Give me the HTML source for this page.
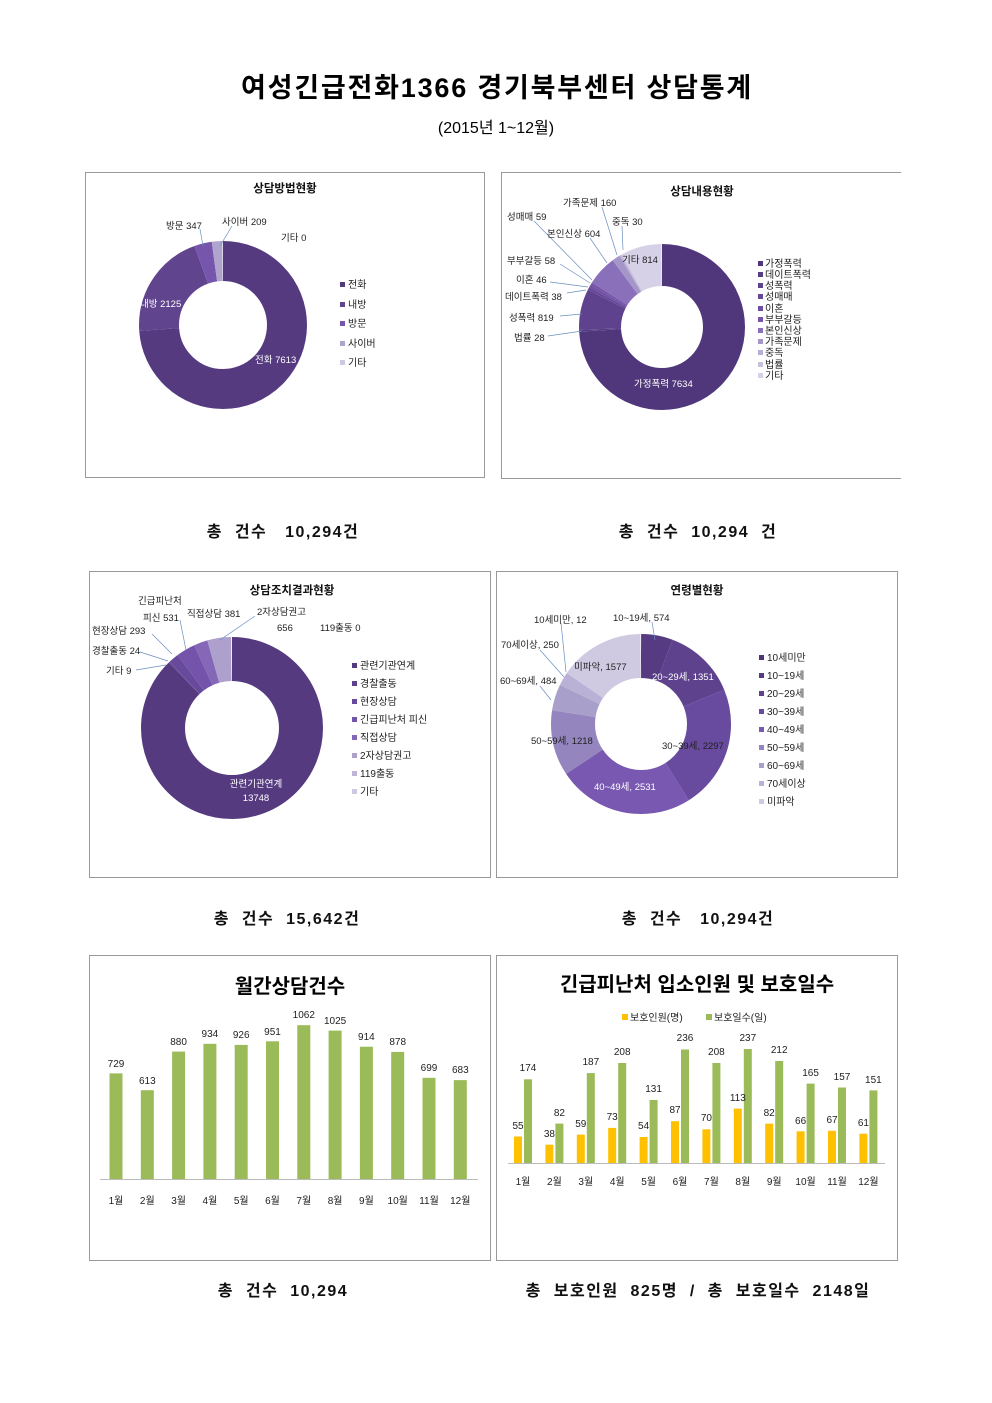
<!DOCTYPE html>
<html><head><meta charset="utf-8"><style>
body{margin:0;background:#fff}
svg{display:block;font-family:"Liberation Sans","Noto Sans CJK KR",sans-serif}
.l{font-size:9.5px;fill:#222}
.w{font-size:9.5px;fill:#fff}
.lg{font-size:10px;fill:#222}
.t{font-size:11.5px;font-weight:bold;fill:#111}
.cap{font-size:16px;font-weight:bold;fill:#111;letter-spacing:1.5px}
.n{font-size:10px;fill:#222;text-anchor:middle}
.m{font-size:10px;fill:#222;text-anchor:middle}
</style></head><body>
<svg width="992" height="1403" viewBox="0 0 992 1403">
<text x="497" y="97" text-anchor="middle" style="font-size:27px;font-weight:bold;letter-spacing:1.8px">여성긴급전화1366 경기북부센터 상담통계</text>
<text x="496" y="133" text-anchor="middle" style="font-size:16px">(2015년 1~12월)</text>

<!-- boxes -->
<g fill="none" stroke="#999" stroke-width="1">
<rect x="85.5" y="172.5" width="399" height="305"/>
<path d="M901 172.5H501.5V478.5H901"/>
<rect x="89.5" y="571.5" width="401" height="306"/>
<rect x="496.5" y="571.5" width="401" height="306"/>
<rect x="89.5" y="955.5" width="401" height="305"/>
<rect x="496.5" y="955.5" width="401" height="305"/>
</g>

<!-- Chart 1 -->
<text class="t" x="285" y="192" text-anchor="middle">상담방법현황</text>
<g fill="none" stroke-width="40" transform="rotate(-90 223 325)">
<circle cx="223" cy="325" r="64" pathLength="100" stroke="#553a80" stroke-dasharray="73.96 100"/>
<circle cx="223" cy="325" r="64" pathLength="100" stroke="#60448e" stroke-dasharray="20.64 100" stroke-dashoffset="-73.96"/>
<circle cx="223" cy="325" r="64" pathLength="100" stroke="#7656ac" stroke-dasharray="3.37 100" stroke-dashoffset="-94.6"/>
<circle cx="223" cy="325" r="64" pathLength="100" stroke="#b0a4cf" stroke-dasharray="2.03 100" stroke-dashoffset="-97.97"/>
</g>
<g stroke="#6a8fbf" stroke-width="0.7"><line x1="200" y1="229" x2="203" y2="246"/><line x1="232" y1="226" x2="220" y2="246"/></g>
<text class="l" x="166" y="229">방문 347</text>
<text class="l" x="222" y="225">사이버 209</text>
<text class="l" x="281" y="241">기타 0</text>
<text class="w" x="140" y="307">내방 2125</text>
<text class="w" x="255" y="363">전화 7613</text>
<g class="lg">
<rect x="340" y="282" width="5" height="5" fill="#553a80"/><text x="348" y="288">전화</text>
<rect x="340" y="302" width="5" height="5" fill="#60448e"/><text x="348" y="308">내방</text>
<rect x="340" y="321" width="5" height="5" fill="#7656ac"/><text x="348" y="327">방문</text>
<rect x="340" y="341" width="5" height="5" fill="#b0a4cf"/><text x="348" y="347">사이버</text>
<rect x="340" y="360" width="5" height="5" fill="#cfc8e2"/><text x="348" y="366">기타</text>
</g>

<!-- Chart 2 -->
<text class="t" x="702" y="195" text-anchor="middle">상담내용현황</text>
<g fill="none" stroke-width="42" transform="rotate(-90 662 327)">
<circle cx="662" cy="327" r="62" pathLength="100" stroke="#50367a" stroke-dasharray="74.19 100"/>
<circle cx="662" cy="327" r="62" pathLength="100" stroke="#573c84" stroke-dasharray="0.37 100" stroke-dashoffset="-74.19"/>
<circle cx="662" cy="327" r="62" pathLength="100" stroke="#5e428e" stroke-dasharray="7.96 100" stroke-dashoffset="-74.56"/>
<circle cx="662" cy="327" r="62" pathLength="100" stroke="#664898" stroke-dasharray="0.57 100" stroke-dashoffset="-82.52"/>
<circle cx="662" cy="327" r="62" pathLength="100" stroke="#6d4ea2" stroke-dasharray="0.45 100" stroke-dashoffset="-83.09"/>
<circle cx="662" cy="327" r="62" pathLength="100" stroke="#7554aa" stroke-dasharray="0.56 100" stroke-dashoffset="-83.54"/>
<circle cx="662" cy="327" r="62" pathLength="100" stroke="#8a6fba" stroke-dasharray="5.87 100" stroke-dashoffset="-84.1"/>
<circle cx="662" cy="327" r="62" pathLength="100" stroke="#a496c8" stroke-dasharray="1.55 100" stroke-dashoffset="-89.97"/>
<circle cx="662" cy="327" r="62" pathLength="100" stroke="#b8aed5" stroke-dasharray="0.29 100" stroke-dashoffset="-91.52"/>
<circle cx="662" cy="327" r="62" pathLength="100" stroke="#c8c1de" stroke-dasharray="0.27 100" stroke-dashoffset="-91.81"/>
<circle cx="662" cy="327" r="62" pathLength="100" stroke="#d6d1e6" stroke-dasharray="7.92 100" stroke-dashoffset="-92.08"/>
</g>
<g stroke="#6a8fbf" stroke-width="0.7">
<line x1="602" y1="207" x2="617" y2="255"/><line x1="534" y1="221" x2="592" y2="280"/><line x1="622" y1="226" x2="623" y2="250"/>
<line x1="590" y1="238" x2="607" y2="263"/><line x1="560" y1="264" x2="590" y2="283"/><line x1="550" y1="282" x2="588" y2="287"/>
<line x1="567" y1="293" x2="586" y2="290"/><line x1="560" y1="316" x2="582" y2="314"/><line x1="548" y1="336" x2="582" y2="331"/>
</g>
<text class="l" x="563" y="206">가족문제 160</text>
<text class="l" x="507" y="220">성매매 59</text>
<text class="l" x="612" y="225">중독 30</text>
<text class="l" x="547" y="237">본인신상 604</text>
<text class="l" x="507" y="264">부부갈등 58</text>
<text class="l" x="622" y="263">기타 814</text>
<text class="l" x="516" y="283">이혼 46</text>
<text class="l" x="505" y="300">데이트폭력 38</text>
<text class="l" x="509" y="321">성폭력 819</text>
<text class="l" x="514" y="341">법률 28</text>
<text class="w" x="634" y="387">가정폭력 7634</text>
<g class="lg">
<rect x="758" y="261" width="5" height="5" fill="#50367a"/><text x="765" y="267">가정폭력</text>
<rect x="758" y="272" width="5" height="5" fill="#573c84"/><text x="765" y="278">데이트폭력</text>
<rect x="758" y="283" width="5" height="5" fill="#5e428e"/><text x="765" y="289">성폭력</text>
<rect x="758" y="294" width="5" height="5" fill="#664898"/><text x="765" y="300">성매매</text>
<rect x="758" y="306" width="5" height="5" fill="#6d4ea2"/><text x="765" y="312">이혼</text>
<rect x="758" y="317" width="5" height="5" fill="#7554aa"/><text x="765" y="323">부부갈등</text>
<rect x="758" y="328" width="5" height="5" fill="#8a6fba"/><text x="765" y="334">본인신상</text>
<rect x="758" y="339" width="5" height="5" fill="#a496c8"/><text x="765" y="345">가족문제</text>
<rect x="758" y="350" width="5" height="5" fill="#b8aed5"/><text x="765" y="356">중독</text>
<rect x="758" y="362" width="5" height="5" fill="#c8c1de"/><text x="765" y="368">법률</text>
<rect x="758" y="373" width="5" height="5" fill="#d6d1e6"/><text x="765" y="379">기타</text>
</g>

<text class="cap" x="283" y="537" text-anchor="middle" xml:space="preserve">총  건수   10,294건</text>
<text class="cap" x="698" y="537" text-anchor="middle" xml:space="preserve">총  건수  10,294  건</text>

<!-- Chart 3 -->
<text class="t" x="292" y="594" text-anchor="middle">상담조치결과현황</text>
<g fill="none" stroke-width="44" transform="rotate(-90 232 728)">
<circle cx="232" cy="728" r="69" pathLength="100" stroke="#553a80" stroke-dasharray="87.89 100"/>
<circle cx="232" cy="728" r="69" pathLength="100" stroke="#5e428e" stroke-dasharray="0.15 100" stroke-dashoffset="-87.89"/>
<circle cx="232" cy="728" r="69" pathLength="100" stroke="#684a9c" stroke-dasharray="1.87 100" stroke-dashoffset="-88.04"/>
<circle cx="232" cy="728" r="69" pathLength="100" stroke="#7454aa" stroke-dasharray="3.39 100" stroke-dashoffset="-89.91"/>
<circle cx="232" cy="728" r="69" pathLength="100" stroke="#8467b6" stroke-dasharray="2.44 100" stroke-dashoffset="-93.3"/>
<circle cx="232" cy="728" r="69" pathLength="100" stroke="#ada0cd" stroke-dasharray="4.19 100" stroke-dashoffset="-95.74"/>
<circle cx="232" cy="728" r="69" pathLength="100" stroke="#cfc8e2" stroke-dasharray="0.07 100" stroke-dashoffset="-99.93"/>
</g>
<g stroke="#6a8fbf" stroke-width="0.7">
<line x1="255" y1="616" x2="220" y2="640"/><line x1="180" y1="620" x2="186" y2="650"/><line x1="152" y1="634" x2="172" y2="654"/>
<line x1="140" y1="652" x2="168" y2="661"/><line x1="136" y1="670" x2="166" y2="665"/>
</g>
<text class="l" x="138" y="604">긴급피난처</text>
<text class="l" x="187" y="617">직접상담 381</text>
<text class="l" x="257" y="615">2자상담권고</text>
<text class="l" x="143" y="621">피신 531</text>
<text class="l" x="277" y="631">656</text>
<text class="l" x="320" y="631">119출동 0</text>
<text class="l" x="92" y="634">현장상담 293</text>
<text class="l" x="92" y="654">경찰출동 24</text>
<text class="l" x="106" y="674">기타 9</text>
<text class="w" x="256" y="787" text-anchor="middle">관련기관연계</text>
<text class="w" x="256" y="801" text-anchor="middle">13748</text>
<g class="lg">
<rect x="352" y="663" width="5" height="5" fill="#553a80"/><text x="360" y="669">관련기관연계</text>
<rect x="352" y="681" width="5" height="5" fill="#5e428e"/><text x="360" y="687">경찰출동</text>
<rect x="352" y="699" width="5" height="5" fill="#684a9c"/><text x="360" y="705">현장상담</text>
<rect x="352" y="717" width="5" height="5" fill="#7454aa"/><text x="360" y="723">긴급피난처 피신</text>
<rect x="352" y="735" width="5" height="5" fill="#8467b6"/><text x="360" y="741">직접상담</text>
<rect x="352" y="753" width="5" height="5" fill="#ada0cd"/><text x="360" y="759">2자상담권고</text>
<rect x="352" y="771" width="5" height="5" fill="#bdb4d8"/><text x="360" y="777">119출동</text>
<rect x="352" y="789" width="5" height="5" fill="#cfc8e2"/><text x="360" y="795">기타</text>
</g>

<!-- Chart 4 -->
<text class="t" x="697" y="594" text-anchor="middle">연령별현황</text>
<g fill="none" stroke-width="44" transform="rotate(-90 641 724)">
<circle cx="641" cy="724" r="68" pathLength="100" stroke="#4f3578" stroke-dasharray="0.12 100"/>
<circle cx="641" cy="724" r="68" pathLength="100" stroke="#563b82" stroke-dasharray="5.58 100" stroke-dashoffset="-0.12"/>
<circle cx="641" cy="724" r="68" pathLength="100" stroke="#5e428e" stroke-dasharray="13.12 100" stroke-dashoffset="-5.7"/>
<circle cx="641" cy="724" r="68" pathLength="100" stroke="#684a9e" stroke-dasharray="22.31 100" stroke-dashoffset="-18.82"/>
<circle cx="641" cy="724" r="68" pathLength="100" stroke="#7858b0" stroke-dasharray="24.59 100" stroke-dashoffset="-41.13"/>
<circle cx="641" cy="724" r="68" pathLength="100" stroke="#9485bf" stroke-dasharray="11.83 100" stroke-dashoffset="-65.72"/>
<circle cx="641" cy="724" r="68" pathLength="100" stroke="#a99fcb" stroke-dasharray="4.7 100" stroke-dashoffset="-77.55"/>
<circle cx="641" cy="724" r="68" pathLength="100" stroke="#bab2d6" stroke-dasharray="2.43 100" stroke-dashoffset="-82.25"/>
<circle cx="641" cy="724" r="68" pathLength="100" stroke="#cfc9e2" stroke-dasharray="15.32 100" stroke-dashoffset="-84.68"/>
</g>
<g stroke="#6a8fbf" stroke-width="0.7">
<line x1="561" y1="623" x2="566" y2="672"/><line x1="652" y1="622" x2="655" y2="640"/>
<line x1="540" y1="650" x2="564" y2="677"/><line x1="540" y1="686" x2="551" y2="700"/>
</g>
<text class="l" x="534" y="623">10세미만, 12</text>
<text class="l" x="613" y="621">10~19세, 574</text>
<text class="l" x="501" y="648">70세이상, 250</text>
<text class="l" x="574" y="670">미파악, 1577</text>
<text class="l" x="500" y="684">60~69세, 484</text>
<text class="w" x="652" y="680">20~29세, 1351</text>
<text class="l" x="531" y="744">50~59세, 1218</text>
<text class="l" x="662" y="749">30~39세, 2297</text>
<text class="w" x="594" y="790">40~49세, 2531</text>
<g class="lg">
<rect x="759" y="655" width="5" height="5" fill="#4f3578"/><text x="767" y="661">10세미만</text>
<rect x="759" y="673" width="5" height="5" fill="#563b82"/><text x="767" y="679">10~19세</text>
<rect x="759" y="691" width="5" height="5" fill="#5e428e"/><text x="767" y="697">20~29세</text>
<rect x="759" y="709" width="5" height="5" fill="#684a9e"/><text x="767" y="715">30~39세</text>
<rect x="759" y="727" width="5" height="5" fill="#7858b0"/><text x="767" y="733">40~49세</text>
<rect x="759" y="745" width="5" height="5" fill="#9485bf"/><text x="767" y="751">50~59세</text>
<rect x="759" y="763" width="5" height="5" fill="#a99fcb"/><text x="767" y="769">60~69세</text>
<rect x="759" y="781" width="5" height="5" fill="#bab2d6"/><text x="767" y="787">70세이상</text>
<rect x="759" y="799" width="5" height="5" fill="#cfc9e2"/><text x="767" y="805">미파악</text>
</g>

<text class="cap" x="287" y="924" text-anchor="middle" xml:space="preserve">총  건수  15,642건</text>
<text class="cap" x="698" y="924" text-anchor="middle" xml:space="preserve">총  건수   10,294건</text>

<!-- Bar chart 1 -->
<text x="290" y="993" text-anchor="middle" style="font-size:20px;font-weight:bold">월간상담건수</text>
<line x1="100" y1="1179.5" x2="478" y2="1179.5" stroke="#bbb"/>
<g fill="#9bbb59">
<rect x="109.5" y="1073.4" width="13" height="105.6"/>
<rect x="140.8" y="1090.2" width="13" height="88.8"/>
<rect x="172.1" y="1051.6" width="13" height="127.4"/>
<rect x="203.4" y="1043.8" width="13" height="135.2"/>
<rect x="234.7" y="1044.9" width="13" height="134.1"/>
<rect x="266" y="1041.3" width="13" height="137.7"/>
<rect x="297.3" y="1025.2" width="13" height="153.8"/>
<rect x="328.6" y="1030.6" width="13" height="148.4"/>
<rect x="359.9" y="1046.7" width="13" height="132.3"/>
<rect x="391.2" y="1051.9" width="13" height="127.1"/>
<rect x="422.5" y="1077.8" width="13" height="101.2"/>
<rect x="453.8" y="1080.1" width="13" height="98.9"/>
</g>
<g class="n">
<text x="116" y="1067">729</text><text x="147.3" y="1084">613</text><text x="178.6" y="1045">880</text>
<text x="209.9" y="1037">934</text><text x="241.2" y="1038">926</text><text x="272.5" y="1035">951</text>
<text x="303.8" y="1018">1062</text><text x="335.1" y="1024">1025</text><text x="366.4" y="1040">914</text>
<text x="397.7" y="1045">878</text><text x="429" y="1071">699</text><text x="460.3" y="1073">683</text>
</g>
<g class="m">
<text x="116" y="1204">1월</text><text x="147.3" y="1204">2월</text><text x="178.6" y="1204">3월</text>
<text x="209.9" y="1204">4월</text><text x="241.2" y="1204">5월</text><text x="272.5" y="1204">6월</text>
<text x="303.8" y="1204">7월</text><text x="335.1" y="1204">8월</text><text x="366.4" y="1204">9월</text>
<text x="397.7" y="1204">10월</text><text x="429" y="1204">11월</text><text x="460.3" y="1204">12월</text>
</g>

<!-- Bar chart 2 -->
<text x="697" y="991" text-anchor="middle" style="font-size:20px;font-weight:bold">긴급피난처 입소인원 및 보호일수</text>
<rect x="622" y="1014" width="6" height="6" fill="#ffc000"/><text class="lg" x="630" y="1021">보호인원(명)</text>
<rect x="706" y="1014" width="6" height="6" fill="#9bbb59"/><text class="lg" x="714" y="1021">보호일수(일)</text>
<line x1="508" y1="1163.5" x2="885" y2="1163.5" stroke="#bbb"/>
<g fill="#ffc000">
<rect x="514" y="1136.5" width="8" height="26.5"/><rect x="545.4" y="1144.7" width="8" height="18.3"/>
<rect x="576.8" y="1134.6" width="8" height="28.4"/><rect x="608.2" y="1127.9" width="8" height="35.1"/>
<rect x="639.6" y="1137" width="8" height="26"/><rect x="671" y="1121.2" width="8" height="41.8"/>
<rect x="702.4" y="1129.3" width="8" height="33.7"/><rect x="733.8" y="1108.6" width="8" height="54.4"/>
<rect x="765.2" y="1123.6" width="8" height="39.4"/><rect x="796.6" y="1131.3" width="8" height="31.7"/>
<rect x="828" y="1130.8" width="8" height="32.2"/><rect x="859.4" y="1133.7" width="8" height="29.3"/>
</g>
<g fill="#9bbb59">
<rect x="524" y="1079.3" width="8" height="83.7"/><rect x="555.4" y="1123.6" width="8" height="39.4"/>
<rect x="586.8" y="1073.1" width="8" height="89.9"/><rect x="618.2" y="1063" width="8" height="100"/>
<rect x="649.6" y="1100" width="8" height="63"/><rect x="681" y="1049.5" width="8" height="113.5"/>
<rect x="712.4" y="1063" width="8" height="100"/><rect x="743.8" y="1049" width="8" height="114"/>
<rect x="775.2" y="1061" width="8" height="102"/><rect x="806.6" y="1083.6" width="8" height="79.4"/>
<rect x="838" y="1087.5" width="8" height="75.5"/><rect x="869.4" y="1090.4" width="8" height="72.6"/>
</g>
<g class="n">
<text x="518" y="1129">55</text><text x="549.4" y="1137">38</text><text x="580.8" y="1127">59</text>
<text x="612.2" y="1120">73</text><text x="643.6" y="1129">54</text><text x="675" y="1113">87</text>
<text x="706.4" y="1121">70</text><text x="737.8" y="1101">113</text><text x="769.2" y="1116">82</text>
<text x="800.6" y="1124">66</text><text x="832" y="1123">67</text><text x="863.4" y="1126">61</text>
<text x="528" y="1071">174</text><text x="559.4" y="1116">82</text><text x="590.8" y="1065">187</text>
<text x="622.2" y="1055">208</text><text x="653.6" y="1092">131</text><text x="685" y="1041">236</text>
<text x="716.4" y="1055">208</text><text x="747.8" y="1041">237</text><text x="779.2" y="1053">212</text>
<text x="810.6" y="1076">165</text><text x="842" y="1080">157</text><text x="873.4" y="1083">151</text>
</g>
<g class="m">
<text x="523" y="1185">1월</text><text x="554.4" y="1185">2월</text><text x="585.8" y="1185">3월</text>
<text x="617.2" y="1185">4월</text><text x="648.6" y="1185">5월</text><text x="680" y="1185">6월</text>
<text x="711.4" y="1185">7월</text><text x="742.8" y="1185">8월</text><text x="774.2" y="1185">9월</text>
<text x="805.6" y="1185">10월</text><text x="837" y="1185">11월</text><text x="868.4" y="1185">12월</text>
</g>

<text class="cap" x="283" y="1296" text-anchor="middle" xml:space="preserve">총  건수  10,294</text>
<text class="cap" x="698" y="1296" text-anchor="middle" xml:space="preserve">총  보호인원  825명  /  총  보호일수  2148일</text>
</svg>
</body></html>
